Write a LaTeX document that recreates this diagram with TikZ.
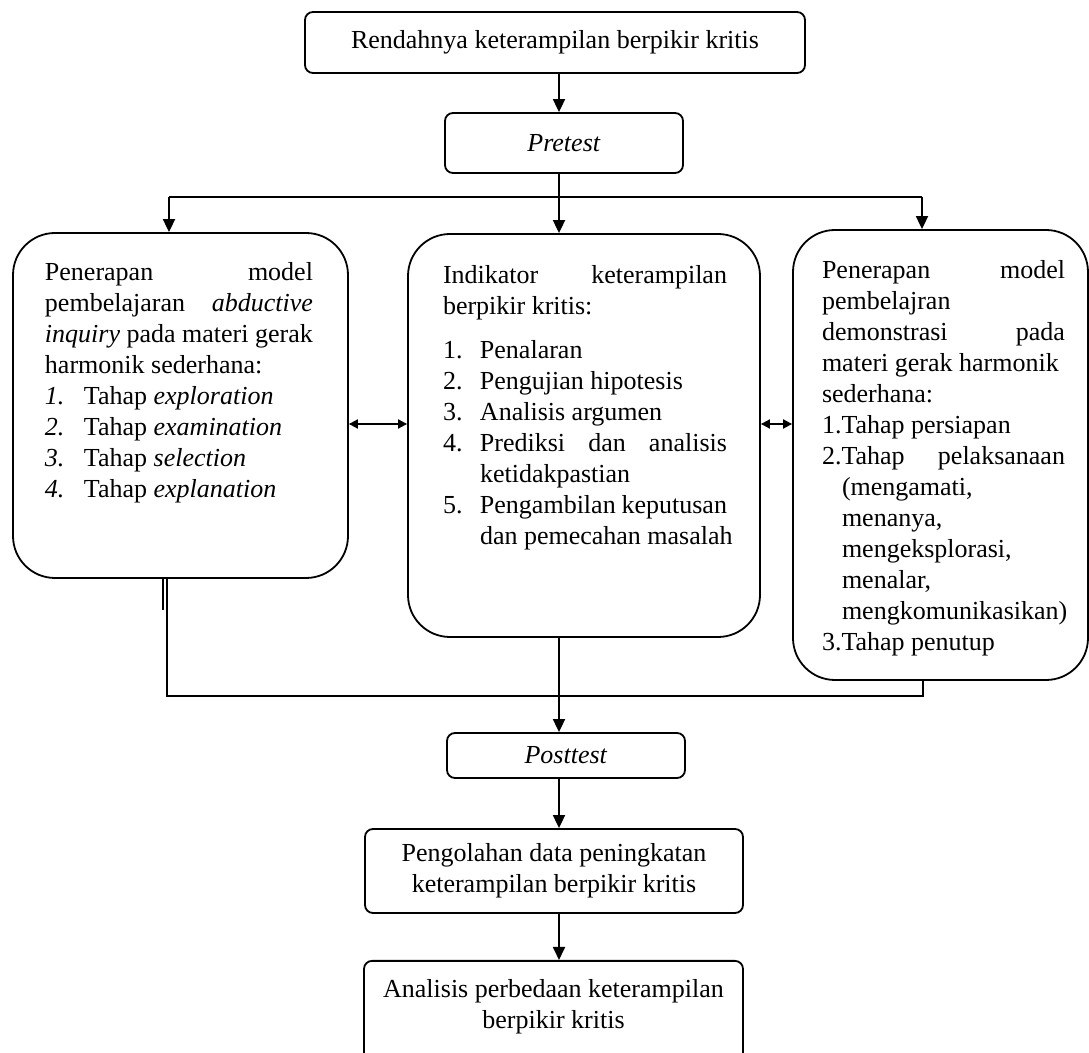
\documentclass[tikz,border=0pt]{standalone}
\usepackage{fontspec}
\setmainfont{Liberation Serif}
\usetikzlibrary{arrows.meta,positioning}

\tikzset{
  flowbox/.style={draw, line width=0.9pt, rounded corners=4pt, align=center, inner sep=0pt},
  bigbox/.style={draw, line width=0.9pt, rounded corners=21pt, inner sep=0pt},
  link/.style={line width=0.9pt},
  arr/.style={link, -{Triangle[length=6.5pt,width=6pt]}},
  twoway/.style={link, {Triangle[length=4.5pt,width=4.5pt]}-{Triangle[length=4.5pt,width=4.5pt]}}
}
% box text: height, width, left pad, right pad, content
\newcommand{\boxtext}[5]{\parbox[c][#1][t]{#2}{\leftskip=#3\rightskip=#4\relax #5}}
\newcommand{\numitem}[3][18.5pt]{\makebox[#1][l]{#2}#3}

\begin{document}
\begin{tikzpicture}[x=0.5pt,y=-0.5pt,font=\fontsize{13}{15.5}\selectfont]
\clip (0,0) rectangle (1089,1053);

\node[flowbox, minimum width=250pt, minimum height=30.5pt] (rendah) at (555,42.5)
  {Rendahnya keterampilan berpikir kritis};
\node[flowbox, minimum width=119pt, minimum height=30pt] (pretest) at (564,143)
  {\textit{Pretest}};

% three middle boxes
\node[bigbox] (abduktif) at (180.5,405.5) {\boxtext{172.5pt}{167.5pt}{16pt}{17.5pt}{%
  \vspace*{14.9pt}%
  Penerapan\hfill model\\
  pembelajaran\hfill\textit{abductive}\\
  \mbox{\textit{inquiry} pada materi gerak}\\
  harmonik sederhana:\\
  \numitem[19.5pt]{\textit{1.}}{Tahap \textit{exploration}}\\
  \numitem[19.5pt]{\textit{2.}}{Tahap \textit{examination}}\\
  \numitem[19.5pt]{\textit{3.}}{Tahap \textit{selection}}\\
  \numitem[19.5pt]{\textit{4.}}{Tahap \textit{explanation}}}};
\node[bigbox] (indikator) at (584,435.5) {\boxtext{201.5pt}{176pt}{17.5pt}{16.5pt}{%
  \vspace*{15.9pt}%
  Indikator\hfill keterampilan\\
  berpikir kritis:\\[6.5pt]
  \numitem{1.}{Penalaran}\\
  \numitem{2.}{Pengujian hipotesis}\\
  \numitem{3.}{Analisis argumen}\\
  \numitem{4.}{Prediksi\hfill dan\hfill analisis}\\
  \hspace*{18.5pt}ketidakpastian\\
  \numitem{5.}{Pengambilan\hfill keputusan}\\
  \hspace*{18.5pt}\mbox{dan pemecahan masalah}}};
\node[bigbox] (demonstrasi) at (940.5,455) {\boxtext{225pt}{147.5pt}{14.5pt}{11.5pt}{%
  \vspace*{15.4pt}%
  Penerapan\hfill model\\
  pembelajran\\
  demonstrasi\hfill pada\\
  materi gerak harmonik\\
  sederhana:\\
  1.Tahap persiapan\\
  2.Tahap\hfill pelaksanaan\\
  \hspace*{10pt}(mengamati,\\
  \hspace*{10pt}menanya,\\
  \hspace*{10pt}mengeksplorasi,\\
  \hspace*{10pt}menalar,\\
  \hspace*{10pt}\mbox{mengkomunikasikan)}\\
  3.Tahap penutup}};

\node[flowbox, minimum width=119pt, minimum height=22.5pt] (posttest) at (566,755.5)
  {\textit{Posttest}};
\node[flowbox, minimum width=189pt, minimum height=42pt] (olah) at (554,871)
  {Pengolahan data peningkatan\\keterampilan berpikir kritis};
\node[flowbox, anchor=north] (analisis) at (553.5,960) {\parbox[c][51pt][t]{189.5pt}{\centering
  \vspace*{9.4pt}Analisis perbedaan keterampilan\\berpikir kritis}};

% connectors
\coordinate (spine) at (559,197);
\coordinate (splitL) at (169,197);
\coordinate (splitR) at (922,197);
\coordinate (mid) at (0,424);
\coordinate (joinL) at (167,696);
\coordinate (joinLb) at (163,696);
\coordinate (joinR) at (923,696);

\draw[arr] (spine |- rendah.south) -- (spine |- pretest.north);
\draw[link] (spine |- pretest.south) -- (spine);
\draw[link] (splitL) -- (splitR);
\draw[arr] (splitL) -- (splitL |- abduktif.north);
\draw[arr] (spine) -- (spine |- indikator.north);
\draw[arr] (splitR) -- (splitR |- demonstrasi.north);

\draw[twoway] (abduktif.east |- mid) -- (indikator.west |- mid);
\draw[twoway] (indikator.east |- mid) -- (demonstrasi.west |- mid);

\draw[link] (joinL |- abduktif.south) -- (joinL) -- (joinR) -- (joinR |- demonstrasi.south);
\draw[link] (joinLb |- abduktif.south) -- ++(0,31);
\draw[arr] (spine |- indikator.south) -- (spine |- posttest.north);
\draw[arr] (spine |- posttest.south) -- (spine |- olah.north);
\draw[arr] (spine |- olah.south) -- (spine |- analisis.north);
\end{tikzpicture}
\end{document}
